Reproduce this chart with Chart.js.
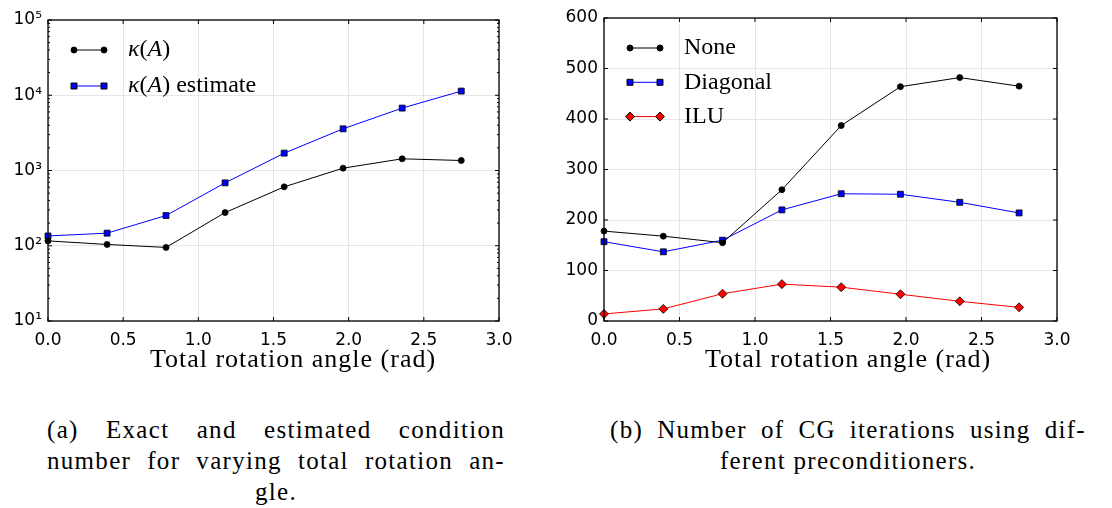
<!DOCTYPE html>
<html>
<head>
<meta charset="utf-8">
<script src="https://cdn.jsdelivr.net/npm/chart.js@4.4.1/dist/chart.umd.min.js"></script>
<style>
  body { margin: 0; background: #fff; width: 1112px; height: 508px; position: relative; overflow: hidden; }
  .panel { position: absolute; top: 0; width: 556px; height: 390px; }
  .xtitle { position: absolute; top: 344px; font: 26px "Liberation Serif", "Times New Roman", serif; line-height: 30px;
            letter-spacing: 1px; white-space: nowrap; transform: translateX(-50%); color: #000; }
  .cap { position: absolute; top: 414px; font: 25px "Liberation Serif", "Times New Roman", serif; line-height: 31px;
         letter-spacing: 1.3px; color: #000; }
  .cap .j { text-align: justify; text-align-last: justify; }
  .cap .c { text-align: center; }
</style>
</head>
<body>
<div class="panel" style="left:0"><canvas id="condChart" width="556" height="390"></canvas></div>
<div class="panel" style="left:556px"><canvas id="iterChart" width="556" height="390"></canvas></div>
<div class="xtitle" style="left:293px">Total rotation angle (rad)</div>
<div class="xtitle" style="left:848px">Total rotation angle (rad)</div>
<div class="cap" style="left:47px; width:458px">
  <div class="j">(a) Exact and estimated condition</div>
  <div class="j">number for varying total rotation an-</div>
  <div class="c">gle.</div>
</div>
<div class="cap" style="left:610px; width:476px">
  <div class="j">(b) Number of CG iterations using dif-</div>
  <div class="c">ferent preconditioners.</div>
</div>
<script>
// rotation angles (rad)
const angles = [0, 0.393, 0.785, 1.178, 1.571, 1.963, 2.356, 2.749];

// (a) condition number
const condExact = [116, 104, 95, 276, 606, 1074, 1430, 1358];
const condEstimate = [135, 147, 252, 685, 1700, 3580, 6750, 11360];

// (b) CG iterations
const itersNone = [178, 168, 155, 260, 387, 464, 482, 465];
const itersDiagonal = [157, 137, 160, 220, 252, 251, 235, 214];
const itersILU = [14, 24, 54, 73, 67, 53, 39, 27];

const xTicks = [0, 0.5, 1.0, 1.5, 2.0, 2.5, 3.0];
const condTicks = [10, 100, 1000, 10000, 100000];
const iterTicks = [0, 100, 200, 300, 400, 500, 600];

const SUP = { 1: "\u00b9", 2: "\u00b2", 3: "\u00b3", 4: "\u2074", 5: "\u2075" };
const tickFont = { family: "DejaVu Sans", size: 17 };

function points(ys) {
  return ys.map((y, i) => ({ x: angles[i], y: y }));
}

// frame + inward tick marks, matplotlib style
const framePlugin = {
  id: "frame",
  afterDatasetsDraw(chart) {
    const { ctx, chartArea: a, scales } = chart;
    const xs = scales.x, ys = scales.y;
    ctx.save();
    ctx.strokeStyle = "#000";
    ctx.lineWidth = 1;
    ctx.beginPath();
    xTicks.forEach(v => {
      const px = xs.getPixelForValue(v);
      ctx.moveTo(px, a.bottom); ctx.lineTo(px, a.bottom - 4);
      ctx.moveTo(px, a.top); ctx.lineTo(px, a.top + 4);
    });
    const major = ys.type === "logarithmic" ? condTicks : iterTicks;
    major.forEach(v => {
      const py = ys.getPixelForValue(v);
      ctx.moveTo(a.left, py); ctx.lineTo(a.left + 4, py);
      ctx.moveTo(a.right, py); ctx.lineTo(a.right - 4, py);
    });
    if (ys.type === "logarithmic") {
      condTicks.slice(0, -1).forEach(d => {
        for (let k = 2; k < 10; k++) {
          const py = ys.getPixelForValue(d * k);
          ctx.moveTo(a.left, py); ctx.lineTo(a.left + 2, py);
          ctx.moveTo(a.right, py); ctx.lineTo(a.right - 2, py);
        }
      });
    }
    ctx.stroke();
    ctx.lineWidth = 1.3;
    ctx.strokeRect(a.left, a.top, a.right - a.left, a.bottom - a.top);
    ctx.restore();
  }
};

// legend inside the axes, line with a marker at each end
const insideLegend = {
  id: "insideLegend",
  afterDraw(chart, args, opts) {
    const { ctx, chartArea: a } = chart;
    ctx.save();
    chart.data.datasets.forEach((ds, i) => {
      const y = a.top + opts.top + i * opts.spacing;
      const x0 = a.left + 26, x1 = a.left + 56;
      ctx.strokeStyle = ds.borderColor;
      ctx.lineWidth = ds.borderWidth;
      ctx.beginPath(); ctx.moveTo(x0, y); ctx.lineTo(x1, y); ctx.stroke();
      [x0, x1].forEach(x => {
        ctx.fillStyle = ds.pointBackgroundColor;
        ctx.strokeStyle = ds.pointBorderColor;
        Chart.helpers.drawPoint(ctx, {
          pointStyle: ds.pointStyle, radius: ds.pointRadius,
          rotation: 0, borderWidth: ds.pointBorderWidth
        }, x, y);
      });
      // text: kappa and the matrix name in italics
      let tx = a.left + 80;
      ctx.fillStyle = "#000";
      ctx.textBaseline = "middle";
      const chars = Array.from(ds.label);
      chars.forEach((c, k) => {
        const it = c === "\u03ba" || (c === "A" && chars[k - 1] === "(");
        ctx.font = (it ? "italic " : "") + "24px 'Liberation Serif', 'Times New Roman', serif";
        ctx.fillText(c, tx, y);
        tx += ctx.measureText(c).width;
      });
    });
    ctx.restore();
  }
};

function xScale() {
  return {
    type: "linear", min: 0, max: 3,
    afterFit: s => { s.height = 69; },
    grid: { color: "#e6e6e6", lineWidth: 1, drawTicks: false },
    border: { display: false },
    ticks: {
      stepSize: 0.5, autoSkip: false, maxRotation: 0, padding: 9,
      color: "#000", font: tickFont,
      callback: v => Number(v).toFixed(1)
    }
  };
}

function dataset(label, ys, color, style, radius, fill, border) {
  return {
    label: label, data: points(ys),
    borderColor: color, borderWidth: 1, tension: 0,
    pointStyle: style, pointRadius: radius, pointHoverRadius: radius,
    pointBackgroundColor: fill, pointBorderColor: border, pointBorderWidth: 0.8,
    clip: false
  };
}

new Chart(document.getElementById("condChart"), {
  type: "line",
  data: {
    datasets: [
      dataset("\u03ba(A)", condExact, "#000", "circle", 3, "#000", "#000"),
      dataset("\u03ba(A) estimate", condEstimate, "#0000ff", "rect", 4.2, "#0000ff", "#000")
    ]
  },
  options: {
    responsive: false, animation: false, events: [],
    layout: { padding: { top: 20, right: 57, left: 0, bottom: 0 } },
    plugins: { legend: { display: false }, tooltip: { enabled: false },
               insideLegend: { top: 30, spacing: 36 } },
    scales: {
      x: xScale(),
      y: {
        type: "logarithmic", min: 10, max: 100000,
        afterFit: s => { s.width = 48; },
        afterBuildTicks: s => { s.ticks = condTicks.map(v => ({ value: v })); },
        grid: { color: "#e6e6e6", lineWidth: 1, drawTicks: false },
        border: { display: false },
        ticks: {
          autoSkip: false, padding: 6, color: "#000", font: tickFont,
          callback: v => "10" + SUP[Math.round(Math.log10(v))]
        }
      }
    }
  },
  plugins: [framePlugin, insideLegend]
});

new Chart(document.getElementById("iterChart"), {
  type: "line",
  data: {
    datasets: [
      dataset("None", itersNone, "#000", "circle", 3, "#000", "#000"),
      dataset("Diagonal", itersDiagonal, "#0000ff", "rect", 4.2, "#0000ff", "#000"),
      dataset("ILU", itersILU, "#ff0000", "rectRot", 4.5, "#ff0000", "#000")
    ]
  },
  options: {
    responsive: false, animation: false, events: [],
    layout: { padding: { top: 18, right: 55, left: 0, bottom: 0 } },
    plugins: { legend: { display: false }, tooltip: { enabled: false },
               insideLegend: { top: 30, spacing: 34.3 } },
    scales: {
      x: xScale(),
      y: {
        type: "linear", min: 0, max: 600,
        afterFit: s => { s.width = 48; },
        afterBuildTicks: s => { s.ticks = iterTicks.map(v => ({ value: v })); },
        grid: { color: "#e6e6e6", lineWidth: 1, drawTicks: false },
        border: { display: false },
        ticks: { autoSkip: false, padding: 6, color: "#000", font: tickFont }
      }
    }
  },
  plugins: [framePlugin, insideLegend]
});
</script>
</body>
</html>
